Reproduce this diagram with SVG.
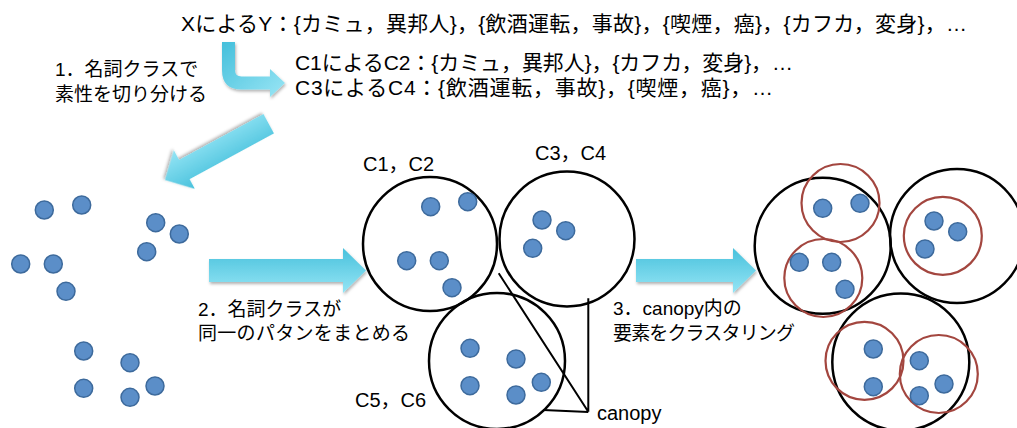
<svg xmlns="http://www.w3.org/2000/svg" width="1017" height="428" viewBox="0 0 1017 428">
<defs>
<style>
text{font-family:"Liberation Sans","Noto Sans CJK JP",sans-serif;fill:#000;}
.t21{font-size:21px;}
.t20{font-size:20px;}
.t19{font-size:19px;}
.dot{fill:#5b8ec8;stroke:#3d6a9c;stroke-width:1.5;}
.big{fill:none;stroke:#000;stroke-width:2.5;}
.red{fill:none;stroke:#a3463f;stroke-width:2.2;}
.arr{stroke:none;filter:url(#sh);}
.can{fill:none;stroke:#000;stroke-width:2;}
</style>
<linearGradient id="gv" x1="0" y1="0" x2="0" y2="1">
<stop offset="0" stop-color="#48c1dc"/>
<stop offset="1" stop-color="#95e5f5"/>
</linearGradient>
<linearGradient id="gb" x1="0" y1="0" x2="1" y2="1">
<stop offset="0" stop-color="#44bfdb"/>
<stop offset="1" stop-color="#9ae6f5"/>
</linearGradient>
<filter id="sh" x="-10%" y="-20%" width="130%" height="150%">
<feDropShadow dx="1" dy="2" stdDeviation="1.5" flood-color="#000" flood-opacity="0.3"/>
</filter>
</defs>

<g id="top-text">
<text class="t21" x="181" y="31" textLength="786" lengthAdjust="spacing">XによるY：{カミュ，異邦人}，{飲酒運転，事故}，{喫煙，癌}，{カフカ，変身}，…</text>
<text class="t21" x="295" y="70" textLength="498" lengthAdjust="spacing">C1によるC2：{カミュ，異邦人}，{カフカ，変身}，…</text>
<text class="t21" x="295" y="95" textLength="478" lengthAdjust="spacing">C3によるC4：{飲酒運転，事故}，{喫煙，癌}，…</text>
</g>

<g id="step-labels">
<text class="t19" x="55" y="76">1．名詞クラスで</text>
<text class="t19" x="55" y="101">素性を切り分ける</text>
<text class="t19" x="198" y="316">2．名詞クラスが</text>
<text class="t19" x="198" y="340" textLength="212" lengthAdjust="spacing">同一のパタンをまとめる</text>
<text class="t19" x="613" y="315">3．canopy内の</text>
<text class="t19" x="613" y="340" textLength="182" lengthAdjust="spacing">要素をクラスタリング</text>
</g>

<g id="connectors">
<path class="arr" fill="url(#gb)" d="M222 42 L235 42 L235 70 Q235 76.5 241.5 76.5 L270 76.5 L270 69 L285 83 L270 97 L270 89.5 L241.5 89.5 Q222 89.5 222 70 Z"/>
<path class="arr" fill="url(#gv)" transform="translate(165,180) rotate(151.5)" d="M-118 -11 L-22 -11 L-22 -22 L0 0 L-22 22 L-22 11 L-118 11 Z"/>
<path class="arr" fill="url(#gv)" d="M209 259 L343 259 L343 248 L366 270.5 L343 293 L343 282 L209 282 Z"/>
<path class="arr" fill="url(#gv)" d="M636 259 L733 259 L733 248 L756 270.5 L733 293 L733 282 L636 282 Z"/>
<path class="can" d="M498.7 273.3 L588.3 411.7 M588.3 298.3 L588.3 411.7 M543.3 410 L588.3 412"/>
</g>

<g id="raw-points">
<circle class="dot" cx="44.3" cy="210" r="9"/>
<circle class="dot" cx="81.7" cy="205" r="9"/>
<circle class="dot" cx="155.7" cy="222.7" r="9"/>
<circle class="dot" cx="179.3" cy="234" r="9"/>
<circle class="dot" cx="146.7" cy="251.7" r="9"/>
<circle class="dot" cx="20.7" cy="264" r="9"/>
<circle class="dot" cx="53.3" cy="264" r="9"/>
<circle class="dot" cx="66" cy="291.3" r="9"/>
<circle class="dot" cx="83.7" cy="351" r="9"/>
<circle class="dot" cx="130" cy="362.7" r="9"/>
<circle class="dot" cx="83.7" cy="388.3" r="9"/>
<circle class="dot" cx="155" cy="386" r="9"/>
<circle class="dot" cx="130" cy="397.3" r="9"/>
</g>

<g id="canopy-c1c2">
<circle class="big" cx="430" cy="244" r="67"/>
<circle class="dot" cx="430.7" cy="206.7" r="9"/>
<circle class="dot" cx="467.7" cy="201.7" r="9"/>
<circle class="dot" cx="406.7" cy="260.7" r="9"/>
<circle class="dot" cx="439.3" cy="260.7" r="9"/>
<circle class="dot" cx="452" cy="287.7" r="9"/>
<text class="t20" x="363" y="171">C1，C2</text>
</g>

<g id="canopy-c3c4">
<circle class="big" cx="567" cy="239" r="67.5"/>
<circle class="dot" cx="542" cy="220" r="9"/>
<circle class="dot" cx="565.7" cy="230.7" r="9"/>
<circle class="dot" cx="532.7" cy="248.3" r="9"/>
<text class="t20" x="535" y="160">C3，C4</text>
</g>

<g id="canopy-c5c6">
<circle class="big" cx="497" cy="361" r="68"/>
<circle class="dot" cx="470" cy="348.3" r="9"/>
<circle class="dot" cx="516" cy="359" r="9"/>
<circle class="dot" cx="470" cy="385.7" r="9"/>
<circle class="dot" cx="516" cy="395" r="9"/>
<circle class="dot" cx="541.3" cy="382.3" r="9"/>
<text class="t20" x="355" y="407">C5，C6</text>
</g>

<g id="canopy-label">
<text class="t20" x="597" y="420">canopy</text>
</g>

<g id="clustered-a">
<circle class="big" cx="822.7" cy="245.7" r="68"/>
<circle class="red" cx="840.5" cy="203" r="39"/>
<circle class="red" cx="823.3" cy="278" r="39"/>
<circle class="dot" cx="822.7" cy="208.3" r="9"/>
<circle class="dot" cx="860" cy="203.3" r="9"/>
<circle class="dot" cx="799.3" cy="262.3" r="9"/>
<circle class="dot" cx="831.7" cy="262.3" r="9"/>
<circle class="dot" cx="845" cy="289.3" r="9"/>
</g>

<g id="clustered-b">
<circle class="big" cx="957" cy="236" r="67"/>
<circle class="red" cx="942.8" cy="235.8" r="39"/>
<circle class="dot" cx="934" cy="221" r="9"/>
<circle class="dot" cx="957.7" cy="231.7" r="9"/>
<circle class="dot" cx="925" cy="249" r="9"/>
</g>

<g id="clustered-c">
<circle class="big" cx="900.8" cy="362" r="68.5"/>
<circle class="red" cx="864.5" cy="360.8" r="39"/>
<circle class="red" cx="938.8" cy="374" r="39"/>
<circle class="dot" cx="873.3" cy="349" r="9"/>
<circle class="dot" cx="873.3" cy="386.7" r="9"/>
<circle class="dot" cx="919.3" cy="360.7" r="9"/>
<circle class="dot" cx="944" cy="384" r="9"/>
<circle class="dot" cx="919.3" cy="395.7" r="9"/>
</g>
</svg>
